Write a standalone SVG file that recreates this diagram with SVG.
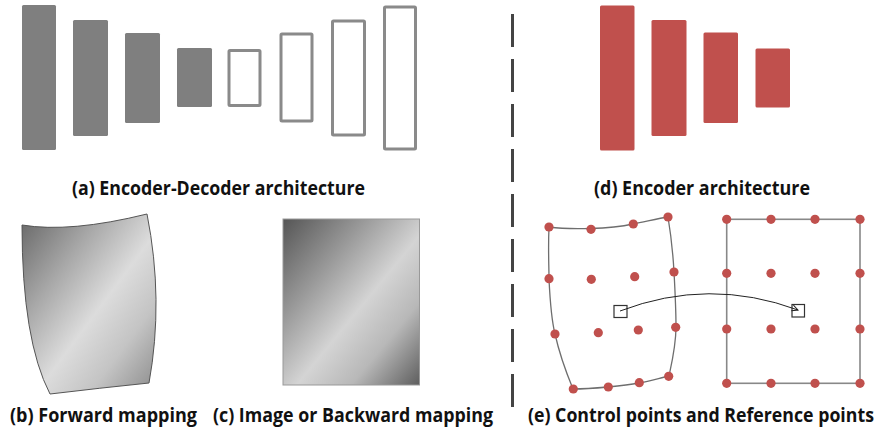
<svg xmlns="http://www.w3.org/2000/svg" width="881" height="435" viewBox="0 0 881 435">
<style>
.fb{fill:#7f7f7f;stroke:none}
.ob{fill:none;stroke:#8a8a8a;stroke-width:3}
.rb{fill:#C0504D;stroke:none}
.cap{font-family:"Open Sans","Noto Sans","Liberation Sans",sans-serif;font-weight:700;font-size:19px;fill:#111}
.dot{fill:#C0504D}
.edge{fill:none;stroke:#6e6e6e;stroke-width:1.3}
.sq{fill:none;stroke:#333;stroke-width:1.2}
</style>
<defs>
<linearGradient id="gb" x1="0" y1="0" x2="1" y2="1">
<stop offset="0" stop-color="#666"/>
<stop offset="0.3" stop-color="#a8a8a8"/>
<stop offset="0.55" stop-color="#dcdcdc"/>
<stop offset="0.75" stop-color="#c4c4c4"/>
<stop offset="1" stop-color="#8a8a8a"/>
</linearGradient>
<linearGradient id="gc" x1="0" y1="0" x2="1" y2="1">
<stop offset="0" stop-color="#555"/>
<stop offset="0.3" stop-color="#999"/>
<stop offset="0.55" stop-color="#d4d4d4"/>
<stop offset="0.75" stop-color="#b8b8b8"/>
<stop offset="1" stop-color="#5e5e5e"/>
</linearGradient>
<marker id="ah" markerWidth="8" markerHeight="8" refX="6" refY="3" orient="auto" markerUnits="userSpaceOnUse">
<path d="M0,0 L6,3 L0,6" fill="none" stroke="#222" stroke-width="1"/>
</marker>
</defs>
<rect width="881" height="435" fill="#fff"/>

<g id="encdec">
<rect class="fb" x="22" y="5" width="34" height="145" rx="1.5"/>
<rect class="fb" x="73" y="20" width="35" height="116" rx="1.5"/>
<rect class="fb" x="125" y="33" width="35" height="90" rx="1.5"/>
<rect class="fb" x="177" y="48" width="35" height="59" rx="1.5"/>
<rect class="ob" x="229" y="50.5" width="31" height="55" rx="1"/>
<rect class="ob" x="281" y="34" width="31" height="87" rx="1"/>
<rect class="ob" x="332.5" y="21" width="32" height="114" rx="1"/>
<rect class="ob" x="384.5" y="7" width="31" height="142" rx="1"/>
</g>

<g id="enc">
<rect class="rb" x="600" y="5.5" width="34.5" height="145" rx="1.5"/>
<rect class="rb" x="651.5" y="20" width="35" height="116" rx="1.5"/>
<rect class="rb" x="703.5" y="32.5" width="34.5" height="90.5" rx="1.5"/>
<rect class="rb" x="755.5" y="48.5" width="34.5" height="59" rx="1.5"/>
</g>

<line id="divider" x1="512.5" y1="14" x2="512.5" y2="407" stroke="#444" stroke-width="3" stroke-dasharray="33 12"/>

<g id="forward">
<path d="M22,225 Q70,233 147,214 Q164,300 149,383 Q100,388 50,394 Q22,340 22,225 Z" fill="url(#gb)" stroke="#555" stroke-width="1"/>
</g>

<g id="backward">
<rect x="283" y="219" width="136.5" height="166" fill="url(#gc)" stroke="#999" stroke-width="1"/>
</g>

<g id="control">
<path class="edge" d="M549,227 C570,230 610,229 633,224 C648,221 660,218 668,217 C671,235 673,254 674,272 C675,290 676,309 676,327 C676,345 672,362 669,376 C660,378 650,381 639,383 C629,385 619,386 608,387 C597,388 585,389 573,389 C566,372 559,352 555,334 C551,318 550,300 549,279 C549,265 548,250 549,227 Z"/>
<circle class="dot" cx="549" cy="227" r="4.6"/>
<circle class="dot" cx="591" cy="229.3" r="4.6"/>
<circle class="dot" cx="633.3" cy="224" r="4.6"/>
<circle class="dot" cx="668" cy="217" r="4.6"/>
<circle class="dot" cx="549" cy="278.7" r="4.6"/>
<circle class="dot" cx="591.3" cy="279.3" r="4.6"/>
<circle class="dot" cx="634.7" cy="276.7" r="4.6"/>
<circle class="dot" cx="674" cy="272" r="4.6"/>
<circle class="dot" cx="555" cy="334" r="4.6"/>
<circle class="dot" cx="598.3" cy="332.7" r="4.6"/>
<circle class="dot" cx="638.3" cy="330" r="4.6"/>
<circle class="dot" cx="675.7" cy="327.3" r="4.6"/>
<circle class="dot" cx="573.3" cy="389" r="4.6"/>
<circle class="dot" cx="608.3" cy="387" r="4.6"/>
<circle class="dot" cx="639.3" cy="382.7" r="4.6"/>
<circle class="dot" cx="668.7" cy="376.3" r="4.6"/>
<rect class="sq" x="614" y="305.5" width="13" height="12"/>
</g>

<g id="reference">
<rect x="726.7" y="219.3" width="133.3" height="164" fill="none" stroke="#888" stroke-width="1.6"/>
<circle class="dot" cx="726.7" cy="219.3" r="4.6"/>
<circle class="dot" cx="771" cy="219.3" r="4.6"/>
<circle class="dot" cx="815" cy="219.3" r="4.6"/>
<circle class="dot" cx="860" cy="219.3" r="4.6"/>
<circle class="dot" cx="726.7" cy="273.3" r="4.6"/>
<circle class="dot" cx="771" cy="273.3" r="4.6"/>
<circle class="dot" cx="815" cy="273.3" r="4.6"/>
<circle class="dot" cx="860" cy="273.3" r="4.6"/>
<circle class="dot" cx="726.7" cy="329" r="4.6"/>
<circle class="dot" cx="771" cy="329" r="4.6"/>
<circle class="dot" cx="815" cy="329" r="4.6"/>
<circle class="dot" cx="860" cy="329" r="4.6"/>
<circle class="dot" cx="726.7" cy="383.3" r="4.6"/>
<circle class="dot" cx="771" cy="383.3" r="4.6"/>
<circle class="dot" cx="815" cy="383.3" r="4.6"/>
<circle class="dot" cx="860" cy="383.3" r="4.6"/>
<rect class="sq" x="792" y="304.5" width="12.5" height="12.5"/>
</g>

<g id="connectors">
<path d="M620,311 Q709,277 798,310" fill="none" stroke="#222" stroke-width="1" marker-end="url(#ah)"/>
</g>

<g id="labels">
<text class="cap" x="72" y="195" textLength="293" lengthAdjust="spacingAndGlyphs">(a) Encoder-Decoder architecture</text>
<text class="cap" x="594" y="195" textLength="216" lengthAdjust="spacingAndGlyphs">(d) Encoder architecture</text>
<text class="cap" x="10" y="422" textLength="187" lengthAdjust="spacingAndGlyphs">(b) Forward mapping</text>
<text class="cap" x="213" y="422" textLength="280" lengthAdjust="spacingAndGlyphs">(c) Image or Backward mapping</text>
<text class="cap" transform="translate(528,422) scale(0.85,1)" x="0" y="0" textLength="407" lengthAdjust="spacingAndGlyphs">(e) Control points and Reference points</text>
</g>
</svg>
